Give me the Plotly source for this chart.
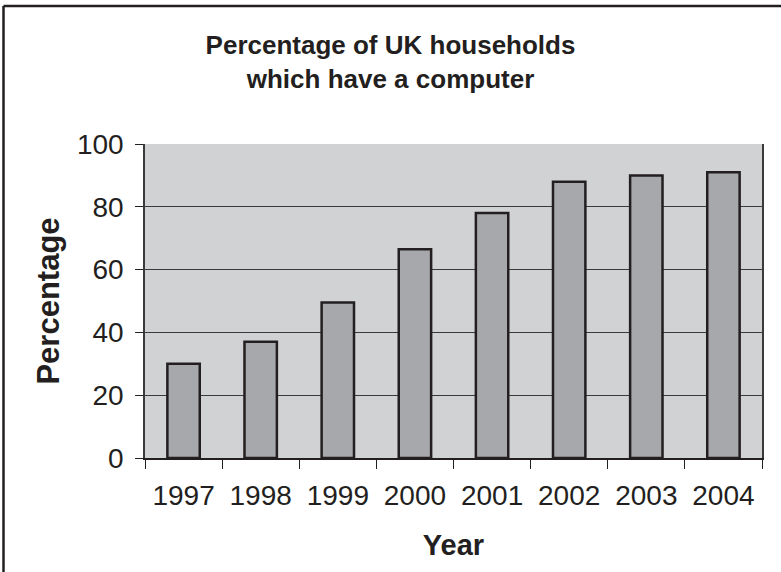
import plotly.graph_objects as go

years = ["1997", "1998", "1999", "2000", "2001", "2002", "2003", "2004"]
percentages = [30, 37, 49.5, 66.5, 78, 88, 90, 91]
y_ticks = [0, 20, 40, 60, 80, 100]

title_text = "Percentage of UK households<br>which have a computer"
x_title = "Year"
y_title = "Percentage"

INK = "#231f20"
FONT = "Liberation Sans, Arial, Helvetica, sans-serif"

W, H = 781, 572
ML, MR, MT, MB = 145, 19, 144, 114
PW, PH = W - ML - MR, H - MT - MB

fig = go.Figure()
fig.add_trace(go.Bar(
    x=years, y=percentages,
    marker=dict(color="#a7a8ab", line=dict(color=INK, width=2.5)),
    hoverinfo="x+y",
))

# outer frame: left and top edges (right/bottom run past the page)
fx0 = (3.5 - ML) / PW
fy1 = (H - MB - 6) / PH
fig.add_shape(type="line", xref="paper", yref="paper",
              x0=fx0, x1=fx0, y0=-0.5, y1=fy1,
              line=dict(color=INK, width=2.5), layer="above")
fig.add_shape(type="line", xref="paper", yref="paper",
              x0=fx0, x1=1.2, y0=fy1, y1=fy1,
              line=dict(color=INK, width=2.5), layer="above")

fig.update_layout(
    width=W, height=H,
    margin=dict(l=ML, r=MR, t=MT, b=MB, pad=0),
    paper_bgcolor="white",
    plot_bgcolor="#d1d2d4",
    bargap=0.58,
    showlegend=False,
    font=dict(family=FONT, color=INK),
    title=dict(text="<b>" + title_text + "</b>", x=0.5, xref="container",
               xanchor="center", y=1 - 54 / H, yref="container", yanchor="top",
               font=dict(size=26, color=INK, family=FONT)),
    xaxis=dict(
        type="category",
        tickson="boundaries",
        ticks="outside", ticklen=9, tickwidth=1.2, tickcolor=INK,
        showgrid=False,
        showline=True, linecolor=INK, linewidth=1.5,
        tickfont=dict(size=28, color=INK),
        ticklabelstandoff=12,
        title=dict(text="<b>" + x_title + "</b>", font=dict(size=29, color=INK), standoff=24),
    ),
    yaxis=dict(
        range=[0, 100],
        tickvals=y_ticks,
        ticks="outside", ticklen=8, tickwidth=1.2, tickcolor=INK,
        showgrid=True, gridcolor="#3a3a3a", gridwidth=1.3,
        showline=True, linecolor="#3a3a3a", linewidth=1.5, mirror=True,
        zeroline=False,
        tickfont=dict(size=28, color=INK),
        ticklabelstandoff=6,
        title=dict(text="<b>" + y_title + "</b>", font=dict(size=31, color=INK), standoff=8),
    ),
)

fig.write_html("out.html")
